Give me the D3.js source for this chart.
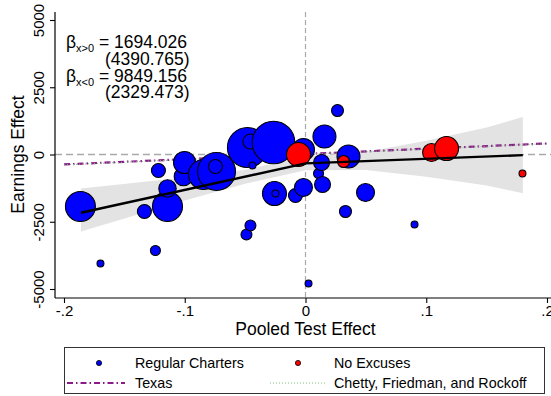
<!DOCTYPE html>
<html>
<head>
<meta charset="utf-8">
<script src="https://cdn.jsdelivr.net/npm/d3@7"></script>
<style>
  body { margin: 0; background: #fff; }
  svg { display: block; font-family: "Liberation Sans", Arial, Helvetica, sans-serif; }
</style>
</head>
<body>
<svg id="chart" width="551" height="396"></svg>
<script>
// regular charters (drawn in this order so overlaps match)
const regX = [-0.1864, -0.1334, -0.1143, -0.1143, -0.1243, -0.1698, -0.1218, -0.1011, -0.1002, -0.0845,
  -0.0737, -0.0746, -0.0481, -0.0456, -0.0439, -0.0265, -0.0489, -0.0456, -0.0257, -0.0249,
  -0.0017, -0.0083, -0.0017, 0.0108, 0.0133, 0.0141, 0.0025, 0.0265, 0.0157, 0.0356,
  0.0331, 0.0497, 0.0903];
const regY = [-1933, -2119, -1933, -1264, -3568, -4051, -595, -818, -297, -743,
  -632, -446, 260, 483, -409, 446, -2974, -2639, -1450, -1450,
  186, -1524, -1227, -706, -297, -1115, -4795, 1635, 669, -74,
  -2119, -1412, -2602];
const regW = [225, 49, 225, 76, 25, 12, 49, 86, 121, 225,
  361, 49, 400, 56, 12, 454, 30, 30, 144, 12,
  121, 49, 81, 25, 64, 64, 12, 36, 132, 132,
  36, 81, 12];

// no excuses charters
const noexX = [-0.0058, 0.0315, 0.1044, 0.1168, 0.1797];
const noexY = [0, -260, 74, 223, -706];
const noexW = [144, 36, 81, 144, 12];

// spline fit and its confidence band
const fitX = [-0.186, 0, 0.18];
const fitY = [-2164, -330, -25];
const ciX = [-0.186, -0.1, -0.05, 0, 0.05, 0.1, 0.15, 0.18];
const ciLo = [-2862, -1710, -1085, -590, -580, -830, -1156, -1440];
const ciHi = [-1264, -855, -565, -70, 90, 510, 1004, 1390];

// comparison lines
const texasX = [-0.2, 0.2];
const texasY = [-370, 410];
const chettyX = [-0.2, 0.2];
const chettyY = [-385, 400];

const xTicks = [-0.2, -0.1, 0, 0.1, 0.2];
const xTickLabels = ["-.2", "-.1", "0", ".1", ".2"];
const yTicks = [-5000, -2500, 0, 2500, 5000];
const yTickLabels = ["-5000", "-2500", "0", "2500", "5000"];

const svg = d3.select('#chart');

const x = d3.scaleLinear().domain([-0.2, 0.2]).range([64, 547]);
const y = d3.scaleLinear().domain([-5000, 5000]).range([289, 20]);
const r = d3.scaleSqrt().domain([0, 400]).range([0, 20]);

const plotLeft = 55, plotRight = 551, plotTop = 12, plotBottom = 298;

// reference lines at zero
svg.append('line')
  .attr('x1', plotLeft).attr('x2', plotRight)
  .attr('y1', y(0)).attr('y2', y(0))
  .attr('stroke', '#aaa').attr('stroke-width', 1.4)
  .attr('stroke-dasharray', '7,4');
svg.append('line')
  .attr('x1', x(0)).attr('x2', x(0))
  .attr('y1', plotTop).attr('y2', plotBottom)
  .attr('stroke', '#aaa').attr('stroke-width', 1.2)
  .attr('stroke-dasharray', '5,3');

// confidence band
const band = d3.area()
  .x((d, i) => x(ciX[i]))
  .y0((d, i) => y(ciLo[i]))
  .y1((d, i) => y(ciHi[i]));
svg.append('path')
  .attr('d', band(ciX))
  .attr('fill', '#e3e3e3');

// texas and chetty lines
const line = d3.line().x(d => x(d[0])).y(d => y(d[1]));
svg.append('path')
  .attr('d', line(texasX.map((v, i) => [v, texasY[i]])))
  .attr('fill', 'none').attr('stroke', '#8b1a8b').attr('stroke-width', 2.2)
  .attr('stroke-dasharray', '6,3,1.5,3');
svg.append('path')
  .attr('d', line(chettyX.map((v, i) => [v, chettyY[i]])))
  .attr('fill', 'none').attr('stroke', '#7cc47c').attr('stroke-width', 1)
  .attr('stroke-dasharray', '1,2');

// bubbles
function drawBubbles(xs, ys, ws, color) {
  svg.append('g').selectAll('circle')
    .data(xs.map((v, i) => ({ x: v, y: ys[i], w: ws[i] })))
    .enter().append('circle')
    .attr('cx', d => x(d.x))
    .attr('cy', d => y(d.y))
    .attr('r', d => r(d.w))
    .attr('fill', color)
    .attr('stroke', '#000')
    .attr('stroke-width', 1.1);
}
drawBubbles(regX, regY, regW, '#0000ff');
drawBubbles(noexX, noexY, noexW, '#ff0000');

// fitted line
svg.append('path')
  .attr('d', line(fitX.map((v, i) => [v, fitY[i]])))
  .attr('fill', 'none').attr('stroke', '#000').attr('stroke-width', 2.4);

// axes
svg.append('line')
  .attr('x1', plotLeft).attr('x2', plotLeft)
  .attr('y1', plotTop).attr('y2', plotBottom)
  .attr('stroke', '#000').attr('stroke-width', 1.2);
svg.append('line')
  .attr('x1', plotLeft).attr('x2', plotRight)
  .attr('y1', plotBottom).attr('y2', plotBottom)
  .attr('stroke', '#000').attr('stroke-width', 1.2);

const xAxis = svg.append('g')
  .attr('transform', 'translate(0,' + plotBottom + ')')
  .call(d3.axisBottom(x).tickValues(xTicks).tickSize(5).tickSizeOuter(0)
    .tickFormat((d, i) => xTickLabels[i]));
xAxis.select('.domain').remove();
xAxis.selectAll('line').attr('stroke-width', 1.1);
xAxis.selectAll('text').attr('font-size', 15).attr('dy', '0.8em').attr('y', 6)
  .attr('font-family', '"Liberation Sans", Arial, sans-serif');

const yAxis = svg.append('g')
  .attr('transform', 'translate(' + plotLeft + ',0)')
  .call(d3.axisLeft(y).tickValues(yTicks).tickSize(5).tickSizeOuter(0)
    .tickFormat((d, i) => yTickLabels[i]));
yAxis.select('.domain').remove();
yAxis.selectAll('line').attr('stroke-width', 1.1);
yAxis.selectAll('text')
  .attr('font-size', 15)
  .attr('font-family', '"Liberation Sans", Arial, sans-serif')
  .attr('text-anchor', 'middle')
  .attr('x', 0).attr('dy', 0)
  .attr('transform', 'translate(-11,0) rotate(-90)');

svg.append('text')
  .attr('transform', 'translate(24,' + y(0) + ') rotate(-90)')
  .attr('text-anchor', 'middle')
  .attr('font-size', 17.5)
  .text('Earnings Effect');
svg.append('text')
  .attr('x', x(0)).attr('y', 335)
  .attr('text-anchor', 'middle')
  .attr('font-size', 17.5)
  .text('Pooled Test Effect');

// coefficient annotation
const notes = [
  { sub: 'x>0', coef: '1694.026', se: '(4390.765)' },
  { sub: 'x<0', coef: '9849.156', se: '(2329.473)' }
];
notes.forEach((n, i) => {
  const base = 48 + i * 33.5;
  const t = svg.append('text').attr('x', 66).attr('y', base).attr('font-size', 17.5);
  t.append('tspan').text('β');
  t.append('tspan').attr('font-size', 11).attr('dy', 4).text(n.sub);
  t.append('tspan').attr('dy', -4).text(' = ' + n.coef);
  svg.append('text').attr('x', 105).attr('y', base + 16.5).attr('font-size', 17.5).text(n.se);
});

// legend
const lg = svg.append('g');
lg.append('rect')
  .attr('x', 64.5).attr('y', 347.5).attr('width', 480).attr('height', 46)
  .attr('fill', '#fff').attr('stroke', '#333').attr('stroke-width', 1);
const legendFont = 14.3;
lg.append('circle').attr('cx', 99).attr('cy', 363).attr('r', 2.6)
  .attr('fill', '#0000ff').attr('stroke', '#000').attr('stroke-width', 0.8);
lg.append('text').attr('x', 135).attr('y', 368).attr('font-size', legendFont).text('Regular Charters');
lg.append('circle').attr('cx', 298).attr('cy', 363).attr('r', 2.6)
  .attr('fill', '#ff0000').attr('stroke', '#000').attr('stroke-width', 0.8);
lg.append('text').attr('x', 334).attr('y', 368).attr('font-size', legendFont).text('No Excuses');
lg.append('line').attr('x1', 67).attr('x2', 125).attr('y1', 383).attr('y2', 383)
  .attr('stroke', '#8b1a8b').attr('stroke-width', 2.2).attr('stroke-dasharray', '6,3,1.5,3');
lg.append('text').attr('x', 135).attr('y', 388).attr('font-size', legendFont).text('Texas');
lg.append('line').attr('x1', 270).attr('x2', 325).attr('y1', 383).attr('y2', 383)
  .attr('stroke', '#7cc47c').attr('stroke-width', 1).attr('stroke-dasharray', '1,2');
lg.append('text').attr('x', 334).attr('y', 388).attr('font-size', legendFont).text('Chetty, Friedman, and Rockoff');
</script>
</body>
</html>
